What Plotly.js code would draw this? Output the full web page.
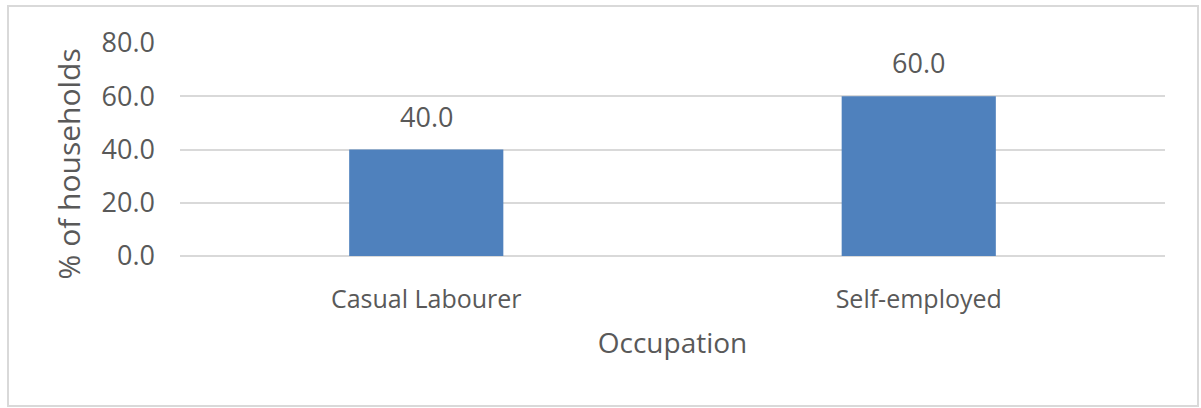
<!DOCTYPE html>
<html>
<head>
<meta charset="utf-8">
<script src="https://cdn.plot.ly/plotly-3.0.1.min.js"></script>
<style>
html,body{margin:0;padding:0;background:#fff;}
#wrap{position:relative;width:1201px;height:408px;overflow:hidden;}
#chart{position:absolute;left:0;top:0;width:1201px;height:408px;}
#frame{position:absolute;left:7px;top:5px;width:1188px;height:398px;border:2px solid #d9d9d9;pointer-events:none;}
</style>
</head>
<body>
<div id="wrap"><div id="chart"></div><div id="frame"></div></div>
<script>
const categories = ["Casual Labourer", "Self-employed"];
const values = [40.0, 60.0];
const yTickVals = [0, 20, 40, 60, 80];
const yTickText = ["0.0", "20.0", "40.0", "60.0", "80.0"];
const xTitle = "Occupation";
const yTitle = "% of households";

const FONT = "Open Sans, Noto Sans, sans-serif";
const GREY = "#595959";

const trace = {
  type: "bar",
  x: categories,
  y: values,
  marker: {color: "#4f81bd"},
  hoverinfo: "skip"
};

const annotations = categories.map((c, i) => ({
  x: c, y: values[i], xref: "x", yref: "y",
  text: values[i].toFixed(1), showarrow: false,
  yanchor: "bottom", yshift: 13,
  font: {family: FONT, size: 27, color: GREY}
}));

// y-axis title (placed like the reference, slightly below the plot's middle)
annotations.push({
  xref: "paper", yref: "paper", x: -0.1137, y: 0.43,
  xanchor: "center", yanchor: "middle",
  text: yTitle, showarrow: false, textangle: -90,
  font: {family: FONT, size: 30, color: GREY}
});

const layout = {
  width: 1201, height: 408,
  margin: {l: 180, r: 36, t: 43, b: 152},
  paper_bgcolor: "#fff", plot_bgcolor: "#fff",
  bargap: 0.687,
  showlegend: false,
  xaxis: {
    type: "category",
    showgrid: false, zeroline: false, showline: false, ticks: "",
    ticklabelstandoff: 26,
    tickfont: {family: FONT, size: 25, color: GREY},
    title: {text: xTitle, font: {family: FONT, size: 28, color: GREY}, standoff: 19}
  },
  yaxis: {
    range: [0, 80],
    tickvals: yTickVals, ticktext: yTickText,
    showgrid: true, gridcolor: "#d9d9d9", gridwidth: 2,
    zeroline: true, zerolinecolor: "#d9d9d9", zerolinewidth: 2,
    showline: false, ticks: "",
    ticklabelstandoff: 24,
    tickfont: {family: FONT, size: 27, color: GREY}
  },
  annotations: annotations
};

Plotly.newPlot("chart", [trace], layout, {displayModeBar: false, staticPlot: true});
</script>
</body>
</html>
